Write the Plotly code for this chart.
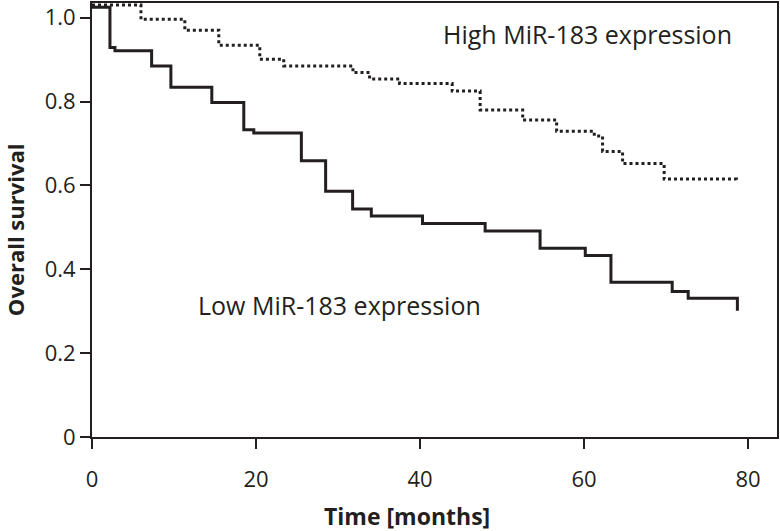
import plotly.graph_objects as go

# Kaplan-Meier step data (months, survival proportion)
low_time = [0, 2.19, 2.80, 7.27, 9.62, 14.61, 18.51, 19.73, 25.53, 28.49, 31.78,
            34.06, 40.30, 47.94, 54.64, 60.15, 63.28, 70.75, 72.70, 78.70]
low_surv = [1.025, 0.929, 0.921, 0.885, 0.834, 0.798, 0.733, 0.725, 0.659, 0.586, 0.544,
            0.527, 0.509, 0.491, 0.450, 0.433, 0.369, 0.347, 0.331, 0.301]

high_time = [0, 5.97, 11.32, 15.46, 20.46, 23.38, 31.82, 33.85, 37.50, 43.92, 47.33,
             52.52, 56.66, 61.25, 62.26, 64.70, 69.77, 78.58]
high_surv = [1.030, 0.996, 0.970, 0.934, 0.901, 0.885, 0.869, 0.854, 0.843, 0.825, 0.780,
             0.756, 0.729, 0.718, 0.681, 0.652, 0.615, 0.608]

x_ticks = [0, 20, 40, 60, 80]
y_ticks = [0, 0.2, 0.4, 0.6, 0.8, 1.0]
y_tick_labels = ["0", "0.2", "0.4", "0.6", "0.8", "1.0"]

ink = "#231f20"
font = "Open Sans"

fig = go.Figure()
fig.add_trace(go.Scatter(x=high_time, y=high_surv, mode="lines", line_shape="hv",
                         line=dict(color=ink, width=3, dash="dot"), showlegend=False,
                         name="High MiR-183 expression"))
fig.add_trace(go.Scatter(x=low_time, y=low_surv, mode="lines", line_shape="hv",
                         line=dict(color=ink, width=3), showlegend=False,
                         name="Low MiR-183 expression"))

fig.update_layout(
    width=780, height=531,
    margin=dict(l=92, r=2, t=1, b=94),
    paper_bgcolor="white", plot_bgcolor="white",
    font=dict(family=font, color=ink),
    xaxis=dict(range=[0, 83.53], tickvals=x_ticks, ticks="outside", ticklen=10, tickwidth=1.5,
               tickcolor=ink, showline=True, linecolor=ink, linewidth=2, mirror=True,
               showgrid=False, zeroline=False, tickfont=dict(size=22, family=font, color=ink),
               ticklabelstandoff=12),
    yaxis=dict(range=[0, 1.035], tickvals=y_ticks, ticktext=y_tick_labels, ticks="outside",
               ticklen=10, tickwidth=1.5, tickcolor=ink, showline=True, linecolor=ink,
               linewidth=2, mirror=True, showgrid=False, zeroline=False,
               tickfont=dict(size=22, family=font, color=ink), ticklabelstandoff=0),
    annotations=[
        dict(x=42.50, y=0.962, xref="x", yref="y", text="High MiR-183 expression",
             showarrow=False, xanchor="left", yanchor="middle",
             font=dict(size=25, family=font, color=ink)),
        dict(x=12.70, y=0.314, xref="x", yref="y", text="Low MiR-183 expression",
             showarrow=False, xanchor="left", yanchor="middle",
             font=dict(size=25, family=font, color=ink)),
        dict(x=0.460, y=-0.181, xref="paper", yref="paper", text="<b>Time [months]</b>",
             showarrow=False, xanchor="center", yanchor="middle",
             font=dict(size=23, family=font, color=ink)),
        dict(x=-0.1122, y=0.477, xref="paper", yref="paper", text="<b>Overall survival</b>",
             showarrow=False, xanchor="center", yanchor="middle", textangle=-90,
             borderpad=0, font=dict(size=22, family=font, color=ink)),
    ],
)

fig.write_html("out.html", config={"displayModeBar": False},
               post_script="document.body.style.margin='0';document.body.style.overflow='hidden';")
